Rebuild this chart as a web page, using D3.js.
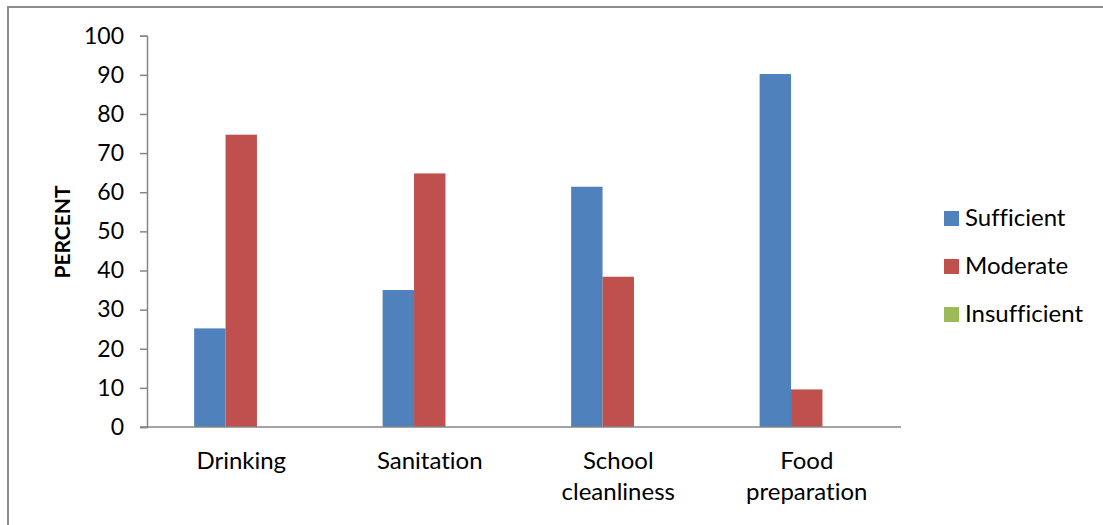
<!DOCTYPE html>
<html>
<head>
<meta charset="utf-8">
<script src="https://cdn.jsdelivr.net/npm/d3@7"></script>
<style>
  html, body { margin: 0; padding: 0; background: #fff; }
  svg { display: block; font-family: Lato, "Open Sans", sans-serif; font-variant-ligatures: none; }
</style>
</head>
<body>
<svg id="chart" width="1103" height="525"></svg>
<script>
// Water use categories and the share of responses in each rating
const categories = [["Drinking"], ["Sanitation"], ["School", "cleanliness"], ["Food", "preparation"]];
const seriesNames = ["Sufficient", "Moderate", "Insufficient"];
const sufficient = [25.2, 35.0, 61.4, 90.2];
const moderate = [74.7, 64.8, 38.4, 9.6];
const insufficient = [0, 0, 0, 0];
const yTicks = [0, 10, 20, 30, 40, 50, 60, 70, 80, 90, 100];
const colors = ["#4f81bd", "#c0504d", "#9bbb59"];

const seriesValues = [sufficient, moderate, insufficient];
const svg = d3.select("#chart");

// Outer chart frame
svg.append("path")
  .attr("d", "M8,1103 L8,7 L1103,7")
  .attr("fill", "none")
  .attr("stroke", "#8c8c8c")
  .attr("stroke-width", 2);

const plot = { left: 147, right: 901, top: 35.7, bottom: 427 };

const x0 = d3.scaleBand()
  .domain(d3.range(categories.length))
  .range([plot.left, plot.right])
  .paddingInner(0).paddingOuter(0);

const groupPad = 0.25;
const x1 = d3.scaleBand()
  .domain(d3.range(seriesNames.length))
  .range([x0.bandwidth() * groupPad, x0.bandwidth() * (1 - groupPad)]);

const y = d3.scaleLinear().domain([0, 100]).range([plot.bottom, plot.top]);

// Y axis
const yAxis = svg.append("g")
  .attr("transform", `translate(${plot.left},0)`)
  .call(d3.axisLeft(y).tickValues(yTicks).tickSize(7).tickPadding(16).tickFormat(d3.format("d")));
yAxis.select(".domain").attr("stroke", "#868686").attr("stroke-width", 1.5);
yAxis.selectAll(".tick line").attr("stroke", "#868686").attr("stroke-width", 1.5);
yAxis.selectAll(".tick text")
  .attr("fill", "#000")
  .style("font-size", "23px")
  .style("font-family", "Lato, 'Open Sans', sans-serif");

// Bars
const groups = svg.append("g").selectAll("g")
  .data(categories.map((c, i) => i))
  .join("g")
  .attr("transform", i => `translate(${x0(i)},0)`);

groups.selectAll("rect")
  .data(i => seriesValues.map((vals, s) => ({ s, v: vals[i] })))
  .join("rect")
  .attr("x", d => x1(d.s))
  .attr("width", x1.bandwidth())
  .attr("y", d => y(d.v))
  .attr("height", d => y(0) - y(d.v))
  .attr("fill", d => colors[d.s]);

// X axis baseline
svg.append("line")
  .attr("x1", plot.left - 7).attr("x2", plot.right)
  .attr("y1", plot.bottom).attr("y2", plot.bottom)
  .attr("stroke", "#868686").attr("stroke-width", 1.5);

// Category labels
const xl = svg.append("g").selectAll("text")
  .data(categories)
  .join("text")
  .attr("x", (d, i) => x0(i) + x0.bandwidth() / 2)
  .attr("y", 469)
  .attr("text-anchor", "middle")
  .style("font-size", "24px")
  .attr("fill", "#000");
xl.selectAll("tspan")
  .data(d => d)
  .join("tspan")
  .attr("x", function () { return this.parentNode.getAttribute("x"); })
  .attr("dy", (d, j) => j === 0 ? 0 : 31)
  .text(d => d);

// Y axis title
svg.append("text")
  .attr("transform", "translate(70,232) rotate(-90)")
  .attr("text-anchor", "middle")
  .style("font-size", "21px")
  .style("font-weight", "bold")
  .attr("fill", "#000")
  .text("PERCENT");

// Legend
const legend = svg.append("g").selectAll("g")
  .data(seriesNames)
  .join("g")
  .attr("transform", (d, i) => `translate(944,${211 + i * 48})`);
legend.append("rect")
  .attr("width", 15).attr("height", 15)
  .attr("fill", (d, i) => colors[i]);
legend.append("text")
  .attr("x", 21).attr("y", 15)
  .style("font-size", "24px")
  .attr("fill", "#000")
  .text(d => d);
</script>
</body>
</html>
